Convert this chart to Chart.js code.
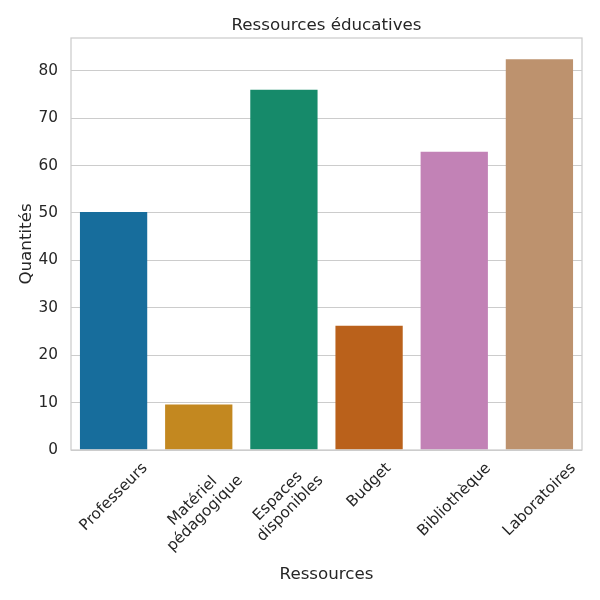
<!DOCTYPE html>
<html>
<head>
<meta charset="utf-8">
<script src="https://cdn.jsdelivr.net/npm/chart.js@4.4.0/dist/chart.umd.min.js"></script>
<style>
  html, body { margin: 0; padding: 0; background: #ffffff; }
  #wrap { width: 600px; height: 600px; }
</style>
</head>
<body>
<div id="wrap"><canvas id="c" width="600" height="600"></canvas></div>
<script>
const categories = ["Professeurs", ["Matériel", "pédagogique"], ["Espaces", "disponibles"], "Budget", "Bibliothèque", "Laboratoires"];
const values = [50.2, 9.6, 76.0, 26.2, 62.9, 82.4];
const barColors = ["#176d9c", "#c38820", "#168a6a", "#ba611b", "#c282b6", "#bd926e"];
const yTicks = [0, 10, 20, 30, 40, 50, 60, 70, 80];
const titleText = "Ressources éducatives";
const xTitle = "Ressources";
const yTitle = "Quantités";

const FONT = "'DejaVu Sans', 'Liberation Sans', sans-serif";
const TEXT = "#262626";
const SPINE = "#cccccc";

const xLabelPlugin = {
  id: "xLabels",
  afterDatasetsDraw(chart) {
    const ctx = chart.ctx;
    const area = chart.chartArea;
    // spines on all four sides
    ctx.save();
    ctx.strokeStyle = SPINE;
    ctx.lineWidth = 1.25;
    ctx.strokeRect(area.left, area.top, area.right - area.left, area.bottom - area.top);
    ctx.restore();
  },
  afterDraw(chart) {
    const ctx = chart.ctx;
    const xs = chart.scales.x;
    const area = chart.chartArea;
    // axes title, centred over the plot area
    ctx.save();
    ctx.font = "16.7px " + FONT;
    ctx.fillStyle = TEXT;
    ctx.textAlign = "center";
    ctx.textBaseline = "middle";
    ctx.fillText(titleText, (area.left + area.right) / 2, 25.2);
    ctx.restore();

    const fs = 15.3;
    const asc = 0.76 * fs;
    const desc = 0.21 * fs;
    const spacing = 17.3;
    const pad = 10.5;
    ctx.save();
    ctx.font = fs + "px " + FONT;
    ctx.fillStyle = TEXT;
    ctx.textAlign = "center";
    ctx.textBaseline = "alphabetic";
    categories.forEach((lab, i) => {
      const lines = Array.isArray(lab) ? lab : [lab];
      let w = 0;
      lines.forEach(l => { w = Math.max(w, ctx.measureText(l).width); });
      const H = asc + (lines.length - 1) * spacing + desc;
      const side = (w + H) * Math.SQRT1_2;
      const cx = xs.getPixelForValue(i);
      const cy = area.bottom + pad + side / 2;
      ctx.save();
      ctx.translate(cx, cy);
      ctx.rotate(-Math.PI / 4);
      lines.forEach((l, k) => {
        ctx.fillText(l, 0, asc + k * spacing - H / 2);
      });
      ctx.restore();
    });
    ctx.restore();
  }
};

new Chart(document.getElementById("c"), {
  type: "bar",
  data: {
    labels: categories,
    datasets: [{
      data: values,
      backgroundColor: barColors,
      borderWidth: 0,
      barPercentage: 0.79,
      categoryPercentage: 1.0
    }]
  },
  options: {
    responsive: false,
    animation: false,
    devicePixelRatio: 1,
    layout: { padding: { left: 0, right: 18, top: 38, bottom: 0 } },
    plugins: {
      legend: { display: false },
      tooltip: { enabled: false },
      title: { display: false }
    },
    scales: {
      x: {
        type: "category",
        offset: true,
        grid: { display: false, drawTicks: false },
        border: { display: false },
        ticks: { display: false },
        title: {
          display: true,
          text: xTitle,
          color: TEXT,
          font: { family: FONT, size: 16.7 },
          padding: { top: 0, bottom: 15.8 }
        },
        afterFit(scale) { scale.height = 150; }
      },
      y: {
        min: 0,
        max: 86.9,
        grid: { color: SPINE, lineWidth: 1, drawTicks: false },
        border: { display: false },
        ticks: {
          stepSize: 10,
          includeBounds: false,
          padding: 13,
          color: TEXT,
          font: { family: FONT, size: 15.3 },
          callback: (v) => yTicks.includes(v) ? String(v) : null
        },
        title: {
          display: true,
          text: yTitle,
          color: TEXT,
          font: { family: FONT, size: 16.7 },
          padding: { top: 17, bottom: 0 }
        },
        afterFit(scale) { scale.width = 71; }
      }
    }
  },
  plugins: [xLabelPlugin]
});
</script>
</body>
</html>
